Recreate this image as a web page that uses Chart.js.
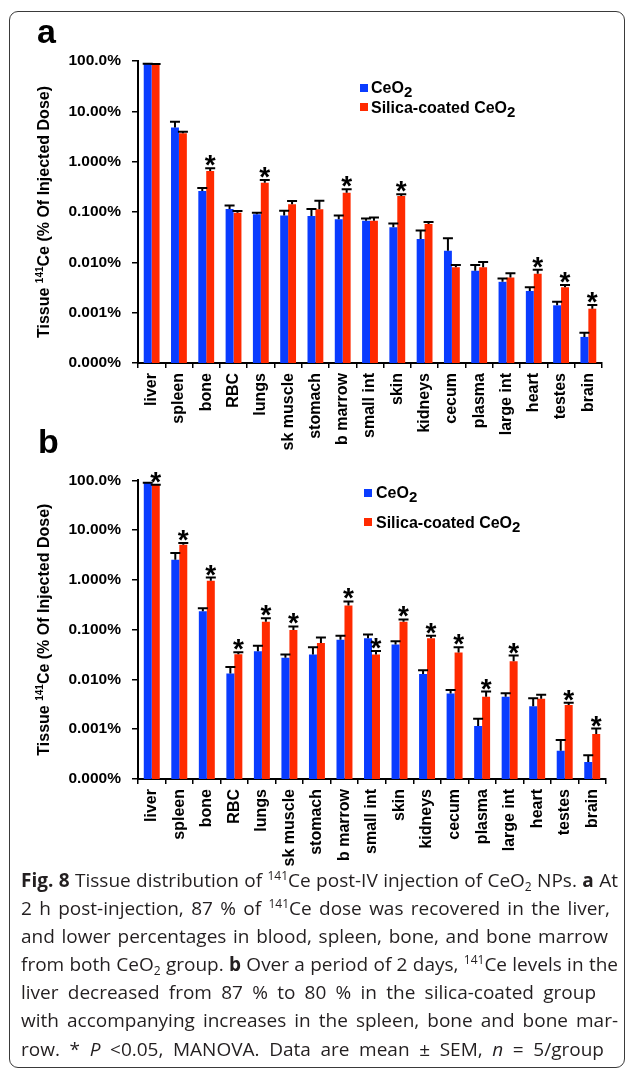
<!DOCTYPE html>
<html><head><meta charset="utf-8">
<script src="https://cdn.jsdelivr.net/npm/chart.js@4.4.1/dist/chart.umd.min.js"></script>
<style>
html,body{margin:0;padding:0;background:#fff;}
body{width:629px;height:1071px;position:relative;overflow:hidden;font-family:"Liberation Sans",Arial,sans-serif;}
#frame{position:absolute;left:9px;top:11px;width:616px;height:1057px;border:1.6px solid #3a3a3a;border-radius:9px;box-sizing:border-box;}
canvas{position:absolute;left:0;}
.plabel{position:absolute;font-weight:bold;font-size:34px;line-height:34px;color:#000;}
.sq{position:absolute;width:8px;height:8px;}
.lt{position:absolute;font-weight:bold;font-size:16px;line-height:16px;color:#000;white-space:nowrap;}
.lt sub{font-size:15px;line-height:0;vertical-align:0;position:relative;top:4px;}
#cap{position:absolute;left:21px;top:866px;font-family:"Open Sans",sans-serif;font-size:19px;line-height:28.1px;color:#231f20;}
#cap .ln{height:28.1px;white-space:nowrap;}
#cap sup{font-size:12px;line-height:0;vertical-align:0;position:relative;top:-7px;}
#cap sub{font-size:12px;line-height:0;vertical-align:0;position:relative;top:4px;}
</style></head>
<body>
<div id="frame"></div>
<canvas id="ca" width="629" height="460" style="top:0;width:629px;height:460px"></canvas>
<canvas id="cb" width="629" height="430" style="top:460px;width:629px;height:430px"></canvas>

<div class="plabel" style="left:37px;top:14px">a</div>
<div class="plabel" style="left:38px;top:424px">b</div>

<div class="sq" style="left:360px;top:84px;background:#0a3cff"></div>
<div class="lt" style="left:371px;top:80px">CeO<sub>2</sub></div>
<div class="sq" style="left:360px;top:103px;background:#ff2a00"></div>
<div class="lt" style="left:371px;top:100px">Silica-coated CeO<sub>2</sub></div>

<div class="sq" style="left:364px;top:489px;background:#0a3cff"></div>
<div class="lt" style="left:376px;top:485px">CeO<sub>2</sub></div>
<div class="sq" style="left:364px;top:518px;background:#ff2a00"></div>
<div class="lt" style="left:376px;top:515px">Silica-coated CeO<sub>2</sub></div>

<div id="cap">
<div class="ln" data-w="597"><span class="t"><b>Fig. 8</b> Tissue distribution of <sup>141</sup>Ce post-IV injection of CeO<sub>2</sub> NPs. <b>a</b> At</span></div>
<div class="ln" data-w="589"><span class="t">2 h post-injection, 87 % of <sup>141</sup>Ce dose was recovered in the liver,</span></div>
<div class="ln" data-w="587"><span class="t">and lower percentages in blood, spleen, bone, and bone marrow</span></div>
<div class="ln" data-w="597"><span class="t">from both CeO<sub>2</sub> group. <b>b</b> Over a period of 2 days, <sup>141</sup>Ce levels in the</span></div>
<div class="ln" data-w="575"><span class="t">liver decreased from 87 % to 80 % in the silica-coated group</span></div>
<div class="ln" data-w="597"><span class="t">with accompanying increases in the spleen, bone and bone mar-</span></div>
<div class="ln" data-w="583"><span class="t">row. * <i>P</i> &lt;0.05, MANOVA. Data are mean ± SEM, <i>n</i> = 5/group</span></div>
</div>

<script>
// ---------- data ----------
const categories = ['liver','spleen','bone','RBC','lungs','sk muscle','stomach','b marrow','small int','skin','kidneys','cecum','plasma','large int','heart','testes','brain'];
const yTickValues = [100, 10, 1, 0.1, 0.01, 0.001, 0.0001];
const yTickLabels = ['100.0%','10.00%','1.000%','0.100%','0.010%','0.001%','0.000%'];
const seriesNames = ['CeO2', 'Silica-coated CeO2'];

// panel a (2 h)
const ceo2A     = [87, 4.8, 0.26, 0.115, 0.090, 0.085, 0.083, 0.072, 0.067, 0.050, 0.029, 0.017, 0.0068, 0.0041, 0.0027, 0.0014, 0.00033];
const ceo2SemA  = [1.5, 1.4, 0.04, 0.019, 0.007, 0.021, 0.032, 0.013, 0.007, 0.009, 0.014, 0.013, 0.0021, 0.0007, 0.0005, 0.00025, 0.00007];
const silicaA   = [86, 3.66, 0.65, 0.097, 0.38, 0.142, 0.113, 0.242, 0.067, 0.208, 0.058, 0.0080, 0.0080, 0.0050, 0.0059, 0.0032, 0.0012];
const silicaSemA= [1, 0.28, 0.09, 0.008, 0.053, 0.024, 0.055, 0.041, 0.011, 0.017, 0.005, 0.0009, 0.0022, 0.0011, 0.0012, 0.00035, 0.00022];
const sigA      = [0,0,1,0,1,0,0,1,0,1,0,0,0,0,1,1,1];

// panel b (2 days)
const ceo2B     = [88, 2.55, 0.234, 0.0131, 0.0368, 0.0272, 0.0316, 0.0626, 0.0675, 0.0506, 0.0129, 0.0052, 0.00116, 0.00448, 0.00289, 0.00037, 0.00022];
const ceo2SemB  = [1, 0.91, 0.034, 0.0047, 0.0108, 0.0044, 0.0125, 0.0124, 0.0121, 0.0082, 0.0024, 0.00095, 0.00046, 0.0008, 0.00132, 0.00024, 0.00008];
const silicaB   = [80, 5.05, 0.96, 0.0321, 0.144, 0.0986, 0.0537, 0.307, 0.0316, 0.144, 0.0674, 0.0346, 0.00448, 0.0233, 0.00409, 0.00307, 0.0008];
const silicaSemB= [1, 0.48, 0.15, 0.003, 0.026, 0.0174, 0.0158, 0.061, 0.0057, 0.016, 0.0076, 0.0095, 0.00122, 0.0069, 0.00082, 0.00034, 0.00023];
const sigB      = [1,1,1,1,1,1,0,1,1,1,1,1,1,1,0,1,1];

// ---------- styles ----------
const BLUE = '#0a3cff', RED = '#ff2a00';
const FAM = '"Liberation Sans", Arial, sans-serif';

const errorBarPlugin = {
  id: 'errbars',
  afterDatasetsDraw(chart) {
    const ctx = chart.ctx, ys = chart.scales.y;
    chart.data.datasets.forEach((ds, di) => {
      const meta = chart.getDatasetMeta(di);
      meta.data.forEach((bar, i) => {
        const top = ys.getPixelForValue(ds.data[i] + ds.sem[i]);
        ctx.save();
        ctx.strokeStyle = '#000'; ctx.lineWidth = 2;
        ctx.beginPath();
        ctx.moveTo(bar.x, bar.y); ctx.lineTo(bar.x, top);
        ctx.moveTo(bar.x - 5, top); ctx.lineTo(bar.x + 5, top);
        ctx.stroke();
        if (ds.sig && ds.sig[i]) {
          ctx.fillStyle = '#000';
          ctx.font = 'bold 28px ' + FAM;
          ctx.textAlign = 'center';
          ctx.textBaseline = 'alphabetic';
          const m = ctx.measureText('*');
          const desc = m.actualBoundingBoxDescent || -10;
          ctx.fillText('*', bar.x, top - 2 - desc);
        }
        ctx.restore();
      });
    });
  }
};

const yTitlePlugin = {
  id: 'ytitle',
  afterDraw(chart, args, o) {
    const ctx = chart.ctx, ca = chart.chartArea;
    const cy = (ca.top + ca.bottom) / 2;
    const parts = [['Tissue ', 16, 0], ['141', 10, -6], ['Ce (% Of Injected Dose)', 16, 0]];
    ctx.save();
    ctx.translate(o.x, cy);
    ctx.rotate(-Math.PI / 2);
    ctx.fillStyle = '#000';
    ctx.textBaseline = 'alphabetic';
    ctx.textAlign = 'left';
    let total = 0;
    parts.forEach(p => { ctx.font = 'bold ' + p[1] + 'px ' + FAM; total += ctx.measureText(p[0]).width; });
    let x = -total / 2;
    parts.forEach(p => {
      ctx.font = 'bold ' + p[1] + 'px ' + FAM;
      ctx.fillText(p[0], x, 6 + p[2]);
      x += ctx.measureText(p[0]).width;
    });
    ctx.restore();
  }
};

function tickLabel(v) {
  const i = yTickValues.findIndex(t => Math.abs(Math.log10(t) - Math.log10(v)) < 1e-6);
  return i >= 0 ? yTickLabels[i] : '';
}

function makeChart(id, ceo, ceoSem, sil, silSem, sig, L) {
  return new Chart(document.getElementById(id), {
    type: 'bar',
    data: {
      labels: categories,
      datasets: [
        { label: seriesNames[0], data: ceo, sem: ceoSem, sig: null, backgroundColor: BLUE, categoryPercentage: 0.58, barPercentage: 1 },
        { label: seriesNames[1], data: sil, sem: silSem, sig: sig, backgroundColor: RED, categoryPercentage: 0.58, barPercentage: 1 }
      ]
    },
    options: {
      responsive: false, animation: false, devicePixelRatio: 1,
      layout: { padding: { top: L.top, right: L.right, left: 0, bottom: 0 } },
      plugins: { legend: { display: false }, tooltip: { enabled: false }, ytitle: { x: 43 } },
      scales: {
        x: {
          type: 'category', offset: true,
          grid: { display: true, drawOnChartArea: false, drawTicks: true, tickLength: 5, color: '#000', lineWidth: 1.5, offset: true },
          border: { display: true, color: '#000', width: 2 },
          ticks: { color: '#000', font: { family: FAM, size: 16, weight: 'bold' }, minRotation: 90, maxRotation: 90, autoSkip: false, padding: 5 },
          afterFit(s) { s.height = L.xh; }
        },
        y: {
          type: 'logarithmic', min: 0.0001, max: 100,
          grid: { display: true, drawOnChartArea: false, drawTicks: true, tickLength: 6, color: '#000', lineWidth: 1.5 },
          border: { display: true, color: '#000', width: 2 },
          ticks: { color: '#000', font: { family: FAM, size: 15.5, weight: 'bold' }, padding: 11, callback: tickLabel },
          afterBuildTicks(s) { s.ticks = yTickValues.map(v => ({ value: v })); },
          afterFit(s) { s.width = 138; }
        }
      }
    },
    plugins: [errorBarPlugin, yTitlePlugin]
  });
}

makeChart('ca', ceo2A, ceo2SemA, silicaA, silicaSemA, sigA, { top: 61, right: 27, xh: 97 });
makeChart('cb', ceo2B, ceo2SemB, silicaB, silicaSemB, sigB, { top: 15, right: 23, xh: 111 });

// justify caption lines to the reference widths
document.querySelectorAll('#cap .ln').forEach(ln => {
  const t = ln.querySelector('.t');
  const target = parseFloat(ln.dataset.w);
  const w = t.getBoundingClientRect().width;
  const spaces = (t.textContent.match(/ /g) || []).length;
  if (spaces > 0) t.style.wordSpacing = ((target - w) / spaces).toFixed(2) + 'px';
});
</script>
</body></html>
